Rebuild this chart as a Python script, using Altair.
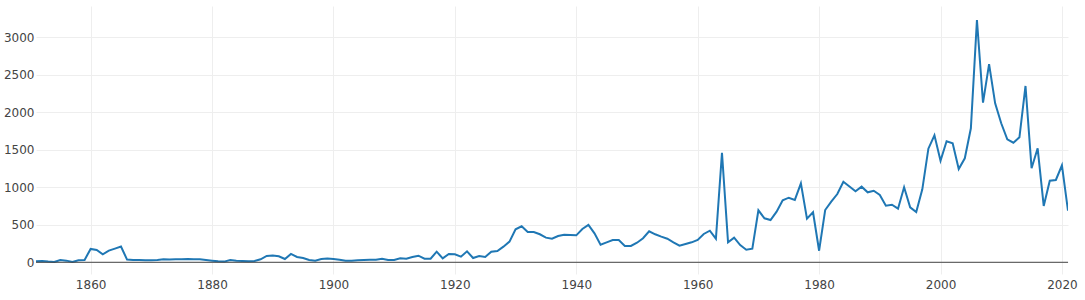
import altair as alt
import pandas as pd

start_year = 1851
values = [
    13, 18, 9, 5, 31, 22, 4, 27, 31,            # 1851-1859
    178, 164, 107, 155, 182, 209, 36, 31, 31, 27,  # 1860-1869
    27, 31, 40, 36, 40, 40, 44, 40, 40, 31,     # 1870-1879
    22, 13, 9, 31, 22, 18, 13, 18, 40, 84,      # 1880-1889
    89, 80, 44, 111, 71, 58, 31, 22, 44, 49,    # 1890-1899
    45, 35, 22, 22, 27, 31, 35, 35, 48, 31,     # 1900-1909
    31, 53, 48, 71, 88, 48, 48, 141, 53, 110,   # 1910-1919
    106, 75, 146, 57, 84, 71, 141, 150, 208, 275,  # 1920-1929
    439, 479, 403, 403, 373, 328, 314, 350, 368, 364,  # 1930-1939
    359, 443, 497, 386, 235, 266, 297, 297, 217, 217,  # 1940-1949
    261, 320, 413, 373, 341, 314, 266, 221, 244, 266,  # 1950-1959
    297, 377, 421, 314, 1459, 266, 328, 230, 168, 181,  # 1960-1969
    692, 586, 563, 674, 825, 860, 830, 1052, 581, 666,  # 1970-1979
    154, 696, 807, 909, 1073, 1010, 945, 1007, 932, 953,  # 1980-1989
    896, 754, 767, 714, 999, 732, 670, 972, 1513, 1691,  # 1990-1999
    1353, 1611, 1585, 1242, 1385, 1784, 3226, 2125, 2640, 2117,  # 2000-2009
    1851, 1638, 1593, 1664, 2348, 1252, 1518, 750, 1087, 1096,  # 2010-2019
    1291, 687,  # 2020-2021
]
years = list(range(start_year, start_year + len(values)))
x_ticks = [1860, 1880, 1900, 1920, 1940, 1960, 1980, 2000, 2020]
y_ticks = [0, 500, 1000, 1500, 2000, 2500, 3000]

df = pd.DataFrame({"year": years, "value": values})

font = "DejaVu Sans"

x_axis = alt.Axis(
    values=x_ticks, format="d", title=None, grid=True, gridColor="#eeeeee",
    domain=False, ticks=False, labelPadding=5, labelColor="#444444",
    labelFontSize=12, labelFont=font,
)
y_axis = alt.Axis(
    values=y_ticks, format="d", title=None, grid=True, gridColor="#eeeeee",
    domain=False, ticks=False, labelPadding=2, labelColor="#444444",
    labelFontSize=12, labelFont=font,
)
x_scale = alt.Scale(domain=[1851, 2021], nice=False, zero=False)
y_scale = alt.Scale(domain=[-156, 3413], nice=False, zero=False)

line = alt.Chart(df).mark_line(color="#1f77b4", strokeWidth=2, clip=True).encode(
    x=alt.X("year:Q", scale=x_scale, axis=x_axis),
    y=alt.Y("value:Q", scale=y_scale, axis=y_axis),
)

zero_df = pd.DataFrame({"value": [0]})
zero = alt.Chart(zero_df).mark_rule(color="#444444", strokeWidth=1).encode(
    y=alt.Y("value:Q", scale=y_scale, axis=y_axis)
)

chart = alt.layer(line, zero).properties(
    width=1032,
    height=268,
    autosize=alt.AutoSizeParams(type="none"),
    padding={"left": 36, "top": 6, "right": 17, "bottom": 26},
    background="white",
).configure_view(stroke=None)

chart.save("out.html", embed_options={"renderer": "svg", "actions": False})
